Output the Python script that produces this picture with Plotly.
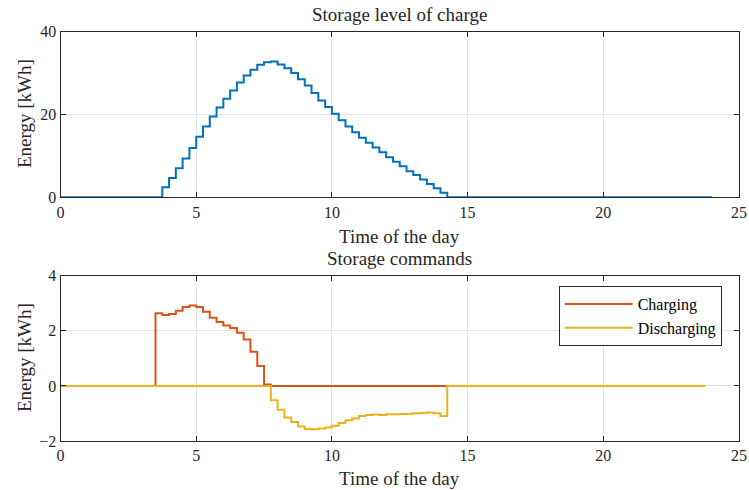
import numpy as np
import plotly.graph_objects as go

# Quarter-hour time grid
t_level = np.arange(0, 24.001, 0.25)      # 97 samples, 0..24 h
t_cmd = np.arange(0, 23.751, 0.25)        # 96 samples, 0..23.75 h

# Storage level of charge [kWh], nonzero between 3.75 h and 14.0 h
level_active = [
    2.41, 4.66, 6.99, 9.40, 11.9, 14.6, 17.1, 19.5, 21.7, 23.8,
    25.8, 27.7, 29.4, 30.8, 32.0, 32.6, 32.8, 32.1, 31.2, 30.0,
    28.5, 27.0, 25.2, 23.4, 21.8, 20.2, 18.6, 17.1, 15.7, 14.4,
    13.2, 12.0, 10.9, 9.7, 8.6, 7.5, 6.3, 5.4, 4.3, 3.2,
    2.2, 1.1,
]
level_start = 15  # index of 3.75 h

# Charging command [kWh], 3.5 h .. 7.5 h
charge_active = [
    2.64, 2.57, 2.61, 2.73, 2.86, 2.92, 2.86, 2.69, 2.47, 2.32,
    2.19, 2.10, 1.93, 1.68, 1.24, 0.72, 0.05,
]
charge_start = 14  # index of 3.5 h

# Discharging command [kWh], 7.75 h .. 14.0 h
discharge_active = [
    -0.52, -0.87, -1.15, -1.31, -1.47, -1.56, -1.57, -1.55, -1.51, -1.45,
    -1.35, -1.25, -1.18, -1.09, -1.06, -1.04, -1.06, -1.03, -1.03, -1.02,
    -1.01, -0.99, -0.98, -0.97, -0.99, -1.09,
]
discharge_start = 31  # index of 7.75 h

level = np.zeros(len(t_level))
level[level_start:level_start + len(level_active)] = level_active
charging = np.zeros(len(t_cmd))
charging[charge_start:charge_start + len(charge_active)] = charge_active
discharging = np.zeros(len(t_cmd))
discharging[discharge_start:discharge_start + len(discharge_active)] = discharge_active

x_ticks = [0, 5, 10, 15, 20, 25]
y1_ticks = [0, 20, 40]
y2_ticks = [-2, 0, 2, 4]

BLUE = "#0072BD"
ORANGE = "#D95319"
YELLOW = "#EDB120"
DARK = "#262626"
GRID = "#e3e3e3"
FONT = "Liberation Serif"

W, H = 749, 490
x_dom = [60.5 / W, 739 / W]
y1_dom = [1 - 197.3 / H, 1 - 31.7 / H]
y2_dom = [1 - 441 / H, 1 - 275.7 / H]

fig = go.Figure()
fig.add_trace(go.Scatter(x=t_level, y=level, mode="lines", line=dict(color=BLUE, width=2, shape="hv"),
                         showlegend=False, xaxis="x", yaxis="y"))
fig.add_trace(go.Scatter(x=t_cmd, y=charging, mode="lines", name="Charging",
                         line=dict(color=ORANGE, width=2, shape="hv"), xaxis="x2", yaxis="y2"))
fig.add_trace(go.Scatter(x=t_cmd, y=discharging, mode="lines", name="Discharging",
                         line=dict(color=YELLOW, width=2, shape="hv"), xaxis="x2", yaxis="y2"))

axis_common = dict(
    showline=True, linecolor=DARK, linewidth=1, mirror="allticks",
    ticks="inside", ticklen=5, tickwidth=1, tickcolor=DARK,
    showgrid=True, gridcolor=GRID, gridwidth=1, zeroline=False,
    automargin=False,
    tickfont=dict(family=FONT, size=16, color=DARK),
)

fig.update_layout(
    width=W, height=H,
    margin=dict(l=0, r=0, t=0, b=0),
    paper_bgcolor="white", plot_bgcolor="white",
    xaxis=dict(domain=x_dom, range=[0, 25], tickvals=x_ticks, anchor="y", **axis_common),
    yaxis=dict(domain=y1_dom, range=[0, 40], tickvals=y1_ticks, anchor="x", **axis_common),
    xaxis2=dict(domain=x_dom, range=[0, 25], tickvals=x_ticks, anchor="y2", **axis_common),
    yaxis2=dict(domain=y2_dom, range=[-2, 4], tickvals=y2_ticks, anchor="x2", **axis_common),
    legend=dict(
        x=721.7 / W, y=1 - 286 / H, xanchor="right", yanchor="top",
        bgcolor="white", bordercolor=DARK, borderwidth=1,
        font=dict(family=FONT, size=16, color="black"),
        itemwidth=68, tracegroupgap=0,
    ),
    font=dict(family=FONT, color=DARK),
)

x_mid = (x_dom[0] + x_dom[1]) / 2
texts = [
    ("Storage level of charge", x_mid, 14, 0),
    ("Time of the day", x_mid, 236, 0),
    ("Storage commands", x_mid, 258, 0),
    ("Time of the day", x_mid, 478, 0),
    ("Energy [kWh]", 24 / W, 114, -90),
    ("Energy [kWh]", 24 / W, 358, -90),
]
for txt, xp, yp, ang in texts:
    fig.add_annotation(text=txt, x=xp, y=1 - yp / H, xref="paper", yref="paper",
                       xanchor="center", yanchor="middle", showarrow=False, textangle=ang,
                       font=dict(family=FONT, size=19, color=DARK))

fig.write_html("out.html")
